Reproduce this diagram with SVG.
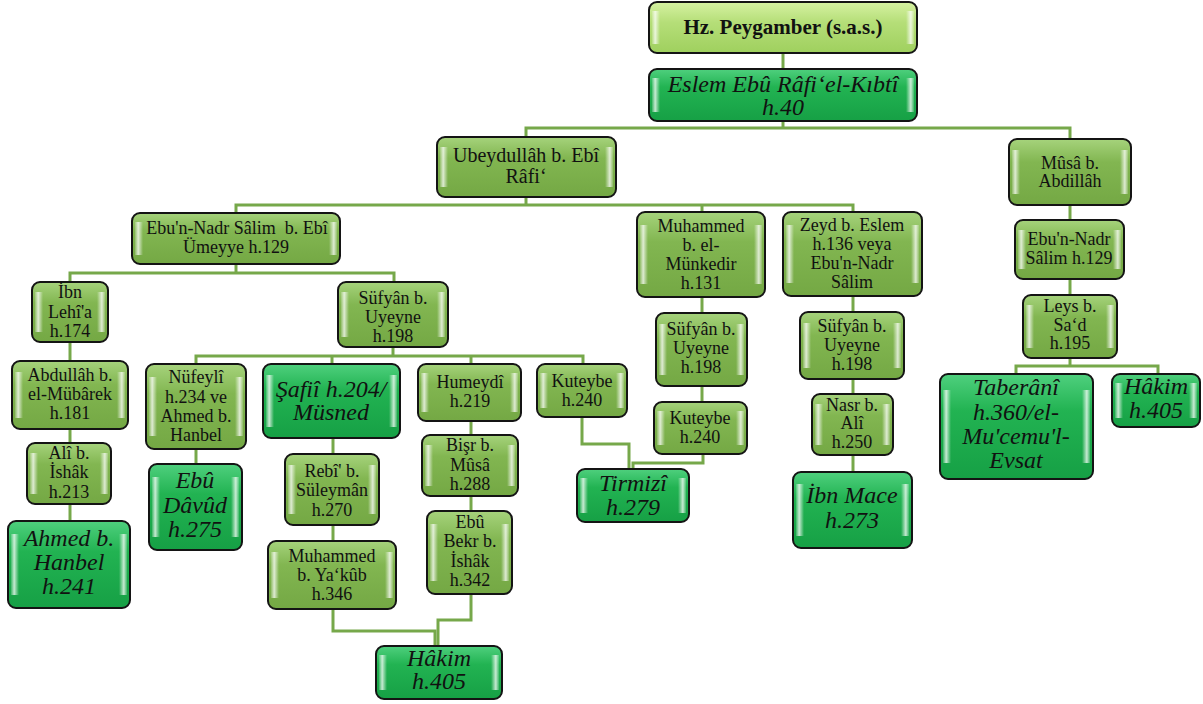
<svg xmlns="http://www.w3.org/2000/svg" width="1203" height="704" viewBox="0 0 1203 704">
<defs>
<linearGradient id="gL" x1="0" y1="0" x2="0" y2="1">
<stop offset="0" stop-color="#a6d37c"/><stop offset="0.35" stop-color="#82b651"/><stop offset="1" stop-color="#74a844"/>
</linearGradient>
<linearGradient id="gD" x1="0" y1="0" x2="0" y2="1">
<stop offset="0" stop-color="#4fd07e"/><stop offset="0.35" stop-color="#22b352"/><stop offset="1" stop-color="#16a045"/>
</linearGradient>
<linearGradient id="gP" x1="0" y1="0" x2="0" y2="1">
<stop offset="0" stop-color="#d6f2a2"/><stop offset="0.4" stop-color="#b5de78"/><stop offset="1" stop-color="#9fd05e"/>
</linearGradient>
<linearGradient id="hlL" x1="0" y1="0" x2="1" y2="0">
<stop offset="0" stop-color="#ffffff" stop-opacity="0.15"/><stop offset="0.4" stop-color="#ffffff" stop-opacity="0.75"/><stop offset="1" stop-color="#ffffff" stop-opacity="0"/>
</linearGradient>
<linearGradient id="hlR" x1="1" y1="0" x2="0" y2="0">
<stop offset="0" stop-color="#ffffff" stop-opacity="0.15"/><stop offset="0.4" stop-color="#ffffff" stop-opacity="0.75"/><stop offset="1" stop-color="#ffffff" stop-opacity="0"/>
</linearGradient>
</defs>
<style>
.box{stroke:#141414;stroke-width:2}
.lt{fill:url(#gL)}
.dk{fill:url(#gD)}
.pg{fill:url(#gP)}
.hl{fill:url(#hlL)}
.hr{fill:url(#hlR)}
text{font-family:"Liberation Serif","Times New Roman",serif;fill:#111;text-anchor:middle}
.t{font-size:18px}
.t20{font-size:20px}
.ti{font-size:24px;font-style:italic}
.tb{font-size:21px;font-weight:bold}
.cn path{fill:none;stroke:#76a84a;stroke-width:3}
</style>
<g id="connectors" class="cn">
<path d="M783,53 V69"/>
<path d="M783,121 V128"/>
<path d="M526,137 V128 H1070 V139"/>
<path d="M526,197 V205"/>
<path d="M236,213 V205 H853 V212"/>
<path d="M702,205 V212"/>
<path d="M236,264 V273"/>
<path d="M70,282 V273 H394 V282"/>
<path d="M70,342 V361"/>
<path d="M70,429 V443"/>
<path d="M70,504 V521"/>
<path d="M393,347 V356"/>
<path d="M196,364 V356 H583 V364"/>
<path d="M332,356 V364"/>
<path d="M471,356 V364"/>
<path d="M196,449 V464"/>
<path d="M333,438 V454"/>
<path d="M333,525 V541"/>
<path d="M333,609 V631 H435 V646"/>
<path d="M471,421 V435"/>
<path d="M471,496 V511"/>
<path d="M471,594 V620 H438 V646"/>
<path d="M582,417 V444 H629 V469"/>
<path d="M703,454 V463 H633 V469"/>
<path d="M702,297 V313"/>
<path d="M702,386 V402"/>
<path d="M853,296 V312"/>
<path d="M853,379 V394"/>
<path d="M853,455 V472"/>
<path d="M1070,205 V220"/>
<path d="M1070,279 V295"/>
<path d="M1070,358 V366"/>
<path d="M1016,374 V366 H1158 V374"/>
</g>

<g id="n_peygamber">
<rect class="box pg" x="649" y="2" width="268" height="51" rx="8"/>
<rect class="hl" x="652" y="11" width="8" height="33"/><rect class="hr" x="906" y="11" width="8" height="33"/>
<text class="tb" x="783" y="34">Hz. Peygamber (s.a.s.)</text>
</g>
<g id="n_eslem">
<rect class="box dk" x="649" y="69" width="268" height="52" rx="8"/>
<rect class="hl" x="652" y="78" width="8" height="34"/><rect class="hr" x="906" y="78" width="8" height="34"/>
<text class="ti"><tspan x="783" y="92">Eslem Ebû Râfi‘el-Kıbtî</tspan><tspan x="783" y="115">h.40</tspan></text>
</g>
<g id="n_ubeydullah">
<rect class="box lt" x="437" y="137" width="179" height="60" rx="8"/>
<rect class="hl" x="440" y="147" width="8" height="40"/><rect class="hr" x="605" y="147" width="8" height="40"/>
<text class="t20"><tspan x="526" y="162">Ubeydullâh b. Ebî</tspan><tspan x="526" y="183">Râfi‘</tspan></text>
</g>
<g id="n_musa">
<rect class="box lt" x="1009" y="139" width="122" height="66" rx="8"/>
<rect class="hl" x="1012" y="150" width="8" height="44"/><rect class="hr" x="1120" y="150" width="8" height="44"/>
<text class="t"><tspan x="1070" y="169">Mûsâ b.</tspan><tspan x="1070" y="187">Abdillâh</tspan></text>
</g>
<g id="n_ebunnadr1">
<rect class="box lt" x="132" y="213" width="208" height="51" rx="8"/>
<rect class="hl" x="135" y="222" width="8" height="33"/><rect class="hr" x="329" y="222" width="8" height="33"/>
<text class="t"><tspan x="237" y="234" xml:space="preserve">Ebu'n-Nadr Sâlim  b. Ebî</tspan><tspan x="236" y="253">Ümeyye h.129</tspan></text>
</g>
<g id="n_munkedir">
<rect class="box lt" x="637" y="212" width="128" height="85" rx="8"/>
<rect class="hl" x="640" y="225" width="8" height="59"/><rect class="hr" x="754" y="225" width="8" height="59"/>
<text class="t"><tspan x="701" y="232">Muhammed</tspan><tspan x="701" y="251">b. el-</tspan><tspan x="701" y="270">Münkedir</tspan><tspan x="701" y="289">h.131</tspan></text>
</g>
<g id="n_zeyd">
<rect class="box lt" x="783" y="212" width="139" height="84" rx="8"/>
<rect class="hl" x="786" y="225" width="8" height="58"/><rect class="hr" x="911" y="225" width="8" height="58"/>
<text class="t"><tspan x="852" y="231">Zeyd b. Eslem</tspan><tspan x="852" y="250">h.136 veya</tspan><tspan x="852" y="269">Ebu'n-Nadr</tspan><tspan x="852" y="288">Sâlim</tspan></text>
</g>
<g id="n_ebunnadr2">
<rect class="box lt" x="1015" y="220" width="109" height="59" rx="8"/>
<rect class="hl" x="1018" y="230" width="8" height="39"/><rect class="hr" x="1113" y="230" width="8" height="39"/>
<text class="t"><tspan x="1069" y="245">Ebu'n-Nadr</tspan><tspan x="1069" y="264">Sâlim h.129</tspan></text>
</g>
<g id="n_leys">
<rect class="box lt" x="1023" y="295" width="94" height="63" rx="8"/>
<rect class="hl" x="1026" y="305" width="8" height="43"/><rect class="hr" x="1106" y="305" width="8" height="43"/>
<text class="t"><tspan x="1070" y="312">Leys b.</tspan><tspan x="1070" y="331">Sa‘d</tspan><tspan x="1070" y="349">h.195</tspan></text>
</g>
<g id="n_lehia">
<rect class="box lt" x="32" y="282" width="76" height="60" rx="8"/>
<rect class="hl" x="35" y="292" width="8" height="40"/><rect class="hr" x="97" y="292" width="8" height="40"/>
<text class="t"><tspan x="70" y="298">İbn</tspan><tspan x="70" y="318">Lehî'a</tspan><tspan x="70" y="337">h.174</tspan></text>
</g>
<g id="n_sufyan1">
<rect class="box lt" x="338" y="282" width="110" height="65" rx="8"/>
<rect class="hl" x="341" y="292" width="8" height="45"/><rect class="hr" x="437" y="292" width="8" height="45"/>
<text class="t"><tspan x="393" y="304">Süfyân b.</tspan><tspan x="393" y="323">Uyeyne</tspan><tspan x="393" y="342">h.198</tspan></text>
</g>
<g id="n_abdullah">
<rect class="box lt" x="12" y="361" width="116" height="68" rx="8"/>
<rect class="hl" x="15" y="372" width="8" height="46"/><rect class="hr" x="117" y="372" width="8" height="46"/>
<text class="t"><tspan x="70" y="381">Abdullâh b.</tspan><tspan x="70" y="400">el-Mübârek</tspan><tspan x="70" y="419">h.181</tspan></text>
</g>
<g id="n_ali">
<rect class="box lt" x="27" y="443" width="84" height="61" rx="8"/>
<rect class="hl" x="30" y="453" width="8" height="41"/><rect class="hr" x="100" y="453" width="8" height="41"/>
<text class="t"><tspan x="69" y="459">Alî b.</tspan><tspan x="69" y="478">İshâk</tspan><tspan x="69" y="498">h.213</tspan></text>
</g>
<g id="n_ahmed">
<rect class="box dk" x="8" y="521" width="122" height="87" rx="8"/>
<rect class="hl" x="11" y="534" width="8" height="61"/><rect class="hr" x="119" y="534" width="8" height="61"/>
<text class="ti"><tspan x="69" y="546">Ahmed b.</tspan><tspan x="69" y="570">Hanbel</tspan><tspan x="69" y="594">h.241</tspan></text>
</g>
<g id="n_nufeyli">
<rect class="box lt" x="146" y="364" width="100" height="85" rx="8"/>
<rect class="hl" x="149" y="377" width="8" height="59"/><rect class="hr" x="235" y="377" width="8" height="59"/>
<text class="t"><tspan x="196" y="383">Nüfeylî</tspan><tspan x="196" y="403">h.234 ve</tspan><tspan x="196" y="422">Ahmed b.</tspan><tspan x="196" y="441">Hanbel</tspan></text>
</g>
<g id="n_ebudavud">
<rect class="box dk" x="149" y="464" width="93" height="86" rx="8"/>
<rect class="hl" x="152" y="477" width="8" height="60"/><rect class="hr" x="231" y="477" width="8" height="60"/>
<text class="ti"><tspan x="195" y="488">Ebû</tspan><tspan x="195" y="513">Dâvûd</tspan><tspan x="195" y="537">h.275</tspan></text>
</g>
<g id="n_safii">
<rect class="box dk" x="263" y="364" width="137" height="74" rx="8"/>
<rect class="hl" x="266" y="375" width="8" height="52"/><rect class="hr" x="389" y="375" width="8" height="52"/>
<text class="ti"><tspan x="331" y="397">Şafiî h.204/</tspan><tspan x="331" y="420">Müsned</tspan></text>
</g>
<g id="n_humeydi">
<rect class="box lt" x="418" y="364" width="103" height="57" rx="8"/>
<rect class="hl" x="421" y="373" width="8" height="39"/><rect class="hr" x="510" y="373" width="8" height="39"/>
<text class="t"><tspan x="470" y="388">Humeydî</tspan><tspan x="470" y="407">h.219</tspan></text>
</g>
<g id="n_kuteybe1">
<rect class="box lt" x="537" y="364" width="90" height="53" rx="8"/>
<rect class="hl" x="540" y="373" width="8" height="35"/><rect class="hr" x="616" y="373" width="8" height="35"/>
<text class="t"><tspan x="582" y="387">Kuteybe</tspan><tspan x="582" y="406">h.240</tspan></text>
</g>
<g id="n_rebi">
<rect class="box lt" x="285" y="454" width="94" height="71" rx="8"/>
<rect class="hl" x="288" y="465" width="8" height="49"/><rect class="hr" x="368" y="465" width="8" height="49"/>
<text class="t"><tspan x="332" y="477">Rebî' b.</tspan><tspan x="332" y="496">Süleymân</tspan><tspan x="332" y="516">h.270</tspan></text>
</g>
<g id="n_bisr">
<rect class="box lt" x="422" y="435" width="96" height="61" rx="8"/>
<rect class="hl" x="425" y="445" width="8" height="41"/><rect class="hr" x="507" y="445" width="8" height="41"/>
<text class="t"><tspan x="470" y="451">Bişr b.</tspan><tspan x="470" y="471">Mûsâ</tspan><tspan x="470" y="490">h.288</tspan></text>
</g>
<g id="n_myakub">
<rect class="box lt" x="268" y="541" width="128" height="68" rx="8"/>
<rect class="hl" x="271" y="552" width="8" height="46"/><rect class="hr" x="385" y="552" width="8" height="46"/>
<text class="t"><tspan x="332" y="562">Muhammed</tspan><tspan x="332" y="581">b. Ya‘kûb</tspan><tspan x="332" y="600">h.346</tspan></text>
</g>
<g id="n_ebubekr">
<rect class="box lt" x="427" y="511" width="85" height="83" rx="8"/>
<rect class="hl" x="430" y="524" width="8" height="57"/><rect class="hr" x="501" y="524" width="8" height="57"/>
<text class="t"><tspan x="470" y="528">Ebû</tspan><tspan x="470" y="547">Bekr b.</tspan><tspan x="470" y="567">İshâk</tspan><tspan x="470" y="586">h.342</tspan></text>
</g>
<g id="n_hakim1">
<rect class="box dk" x="376" y="646" width="126" height="53" rx="8"/>
<rect class="hl" x="379" y="655" width="8" height="35"/><rect class="hr" x="491" y="655" width="8" height="35"/>
<text class="ti"><tspan x="439" y="666">Hâkim</tspan><tspan x="439" y="689">h.405</tspan></text>
</g>
<g id="n_sufyan2">
<rect class="box lt" x="656" y="313" width="91" height="73" rx="8"/>
<rect class="hl" x="659" y="324" width="8" height="51"/><rect class="hr" x="736" y="324" width="8" height="51"/>
<text class="t"><tspan x="701" y="335">Süfyân b.</tspan><tspan x="701" y="354">Uyeyne</tspan><tspan x="701" y="373">h.198</tspan></text>
</g>
<g id="n_kuteybe2">
<rect class="box lt" x="654" y="402" width="93" height="52" rx="8"/>
<rect class="hl" x="657" y="411" width="8" height="34"/><rect class="hr" x="736" y="411" width="8" height="34"/>
<text class="t"><tspan x="700" y="424">Kuteybe</tspan><tspan x="700" y="443">h.240</tspan></text>
</g>
<g id="n_tirmizi">
<rect class="box dk" x="577" y="469" width="112" height="53" rx="8"/>
<rect class="hl" x="580" y="478" width="8" height="35"/><rect class="hr" x="678" y="478" width="8" height="35"/>
<text class="ti"><tspan x="633" y="491">Tirmizî</tspan><tspan x="633" y="515">h.279</tspan></text>
</g>
<g id="n_sufyan3">
<rect class="box lt" x="800" y="312" width="104" height="67" rx="8"/>
<rect class="hl" x="803" y="323" width="8" height="45"/><rect class="hr" x="893" y="323" width="8" height="45"/>
<text class="t"><tspan x="852" y="332">Süfyân b.</tspan><tspan x="852" y="351">Uyeyne</tspan><tspan x="852" y="370">h.198</tspan></text>
</g>
<g id="n_nasr">
<rect class="box lt" x="812" y="394" width="81" height="61" rx="8"/>
<rect class="hl" x="815" y="404" width="8" height="41"/><rect class="hr" x="882" y="404" width="8" height="41"/>
<text class="t"><tspan x="852" y="411">Nasr b.</tspan><tspan x="852" y="429">Alî</tspan><tspan x="852" y="448">h.250</tspan></text>
</g>
<g id="n_ibnmace">
<rect class="box dk" x="793" y="472" width="119" height="76" rx="8"/>
<rect class="hl" x="796" y="484" width="8" height="52"/><rect class="hr" x="901" y="484" width="8" height="52"/>
<text class="ti"><tspan x="852" y="503">İbn Mace</tspan><tspan x="852" y="528">h.273</tspan></text>
</g>
<g id="n_taberani">
<rect class="box dk" x="940" y="374" width="153" height="105" rx="8"/>
<rect class="hl" x="943" y="390" width="8" height="73"/><rect class="hr" x="1082" y="390" width="8" height="73"/>
<text class="ti"><tspan x="1016" y="395">Taberânî</tspan><tspan x="1016" y="420">h.360/el-</tspan><tspan x="1016" y="444">Mu'cemu'l-</tspan><tspan x="1016" y="468">Evsat</tspan></text>
</g>
<g id="n_hakim2">
<rect class="box dk" x="1112" y="374" width="88" height="53" rx="8"/>
<rect class="hl" x="1115" y="383" width="8" height="35"/><rect class="hr" x="1189" y="383" width="8" height="35"/>
<text class="ti"><tspan x="1156" y="394">Hâkim</tspan><tspan x="1156" y="418">h.405</tspan></text>
</g>
</svg>
